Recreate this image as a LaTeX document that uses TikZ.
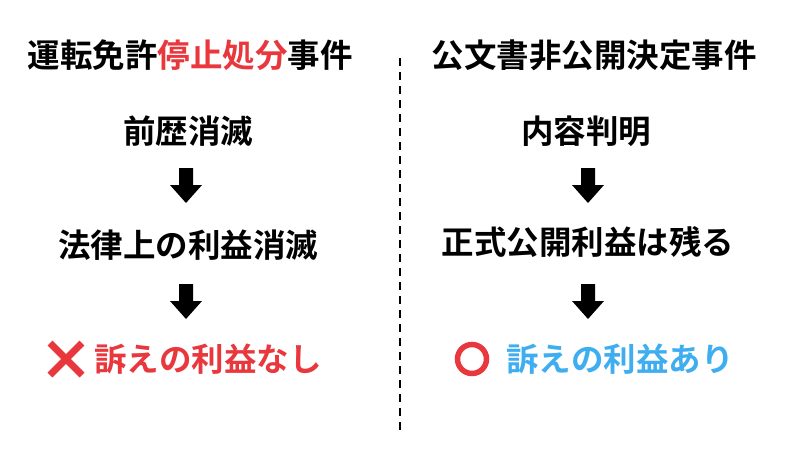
\documentclass[tikz,border=0pt]{standalone}
\usepackage{fontspec}
\setmainfont{Noto Sans CJK JP}[BoldFont={Noto Sans CJK JP Bold}]
\definecolor{myred}{HTML}{E8383D}
\definecolor{myblue}{HTML}{3FAEF0}
\begin{document}
\begin{tikzpicture}[x=1pt,y=-1pt,
  txt/.style={font=\fontsize{32.5}{32.5}\selectfont\bfseries,inner sep=0pt}]
\useasboundingbox[fill=white] (0,0) rectangle (800,450);
\newcommand{\blockarrow}[2]{\fill (#1-7,#2) -- (#1+7,#2) -- (#1+7,#2+17) -- (#1+16,#2+17) -- (#1,#2+35) -- (#1-16,#2+17) -- (#1-7,#2+17) -- cycle;}
\node[txt] (lt) at (190,55) {運転免許\textcolor{myred}{停止処分}事件};
\node[txt] (rt) at (594,55) {公文書非公開決定事件};
\draw[line width=2.5pt,dash pattern=on 8pt off 6pt] (400,58) -- (400,432);
\node[txt] (l1) at (188,131) {前歴消滅};
\blockarrow{186}{168}
\node[txt] (l2) at (188,245) {法律上の利益消滅};
\blockarrow{186}{284}
\node[txt,text=myred] (l3) at (208,359) {訴えの利益なし};
\draw[myred,line width=7pt] (50,343) -- (82,375) (82,343) -- (50,375);
\node[txt] (r1) at (586,131) {内容判明};
\blockarrow{588}{168}
\node[txt] (r2) at (588,242) {正式公開利益は残る};
\blockarrow{588}{284}
\node[txt,text=myblue] (r3) at (620,359) {訴えの利益あり};
\draw[myred,line width=5.5pt] (472,359) circle (14.5);
\end{tikzpicture}
\end{document}
